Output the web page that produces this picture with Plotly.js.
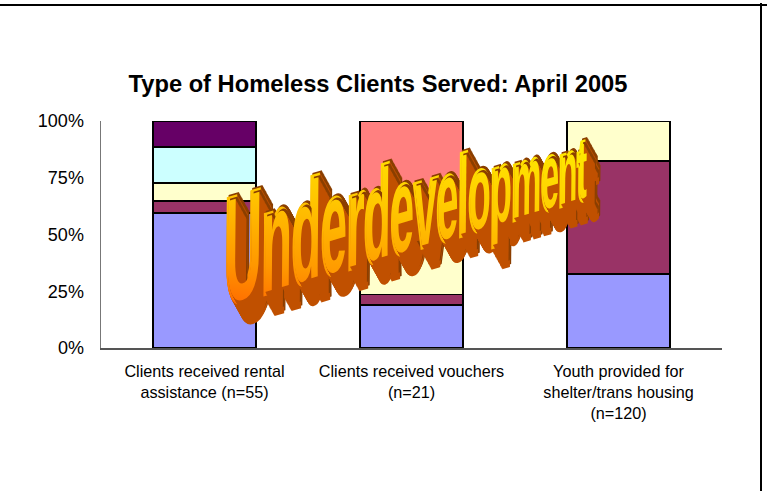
<!DOCTYPE html>
<html><head><meta charset="utf-8">
<script src="https://cdn.plot.ly/plotly-3.0.1.min.js"></script>
<style>html,body{margin:0;padding:0;background:#fff}#c{width:767px;height:491px}</style>
</head><body><div id="c"></div>
<script>
const categories = ['Clients received rental<br>assistance (n=55)', 'Clients received vouchers<br>(n=21)', 'Youth provided for<br>shelter/trans housing<br>(n=120)'];
const blue = [59.6, 18.9, 32.6];
const maroon = [5.2, 4.7, 49.9];
const cream = [8.0, 33.4, 17.5];
const cyan = [15.6, 0, 0];
const purple = [11.6, 0, 0];
const salmon = [0, 43, 0];
const colors = ['#9999FF', '#993366', '#FFFFCC', '#CCFFFF', '#660066', '#FF8080'];
const series = [blue, maroon, cream, cyan, purple, salmon];
const word = 'Underdevelopment';
const sizes = [142,136,131,127,123,119,115,111,107,103,99,95,91,87,83,79];

const traces = series.map((v, i) => ({
  type: 'bar', x: categories, y: v, width: 0.5,
  marker: {color: colors[i], line: {color: '#000', width: 1.8}},
  hoverinfo: 'skip'
}));
const layout = {
  width: 767, height: 491, barmode: 'stack', showlegend: false,
  paper_bgcolor: '#fff', plot_bgcolor: '#fff',
  margin: {l: 101, r: 45, t: 121, b: 143, autoexpand: false},
  font: {family: '"Liberation Sans", Arial, sans-serif', color: '#000'},
  title: {text: 'Type of Homeless Clients Served: April 2005', font: {size: 23.7, color: '#000', family: '"Liberation Sans", Arial, sans-serif', weight: 700}, x: 378/767, xanchor: 'center', y: 1 - 84/491, yanchor: 'middle'},
  xaxis: {type: 'category', showgrid: false, ticks: 'outside', ticklen: 8, tickcolor: 'rgba(0,0,0,0)', tickfont: {size: 16.2}, tickangle: 0, showline: true, linecolor: '#555', linewidth: 1.5, automargin: false},
  yaxis: {range: [0, 100], tickvals: [0, 25, 50, 75, 100], ticktext: ['0%', '25%', '50%', '75%', '100%'], showgrid: false, zeroline: false, ticks: 'outside', ticklen: 12, tickcolor: 'rgba(0,0,0,0)', tickfont: {size: 18}, showline: true, linecolor: '#777', linewidth: 1.5, automargin: false},
  shapes: [
    {type: 'line', xref: 'paper', yref: 'paper', x0: -101/621, x1: 666/621, y0: 1 + 116/227, y1: 1 + 116/227, line: {color: '#000', width: 2}},
    {type: 'line', xref: 'paper', yref: 'paper', x0: 660/621, x1: 660/621, y0: 1 + 118/227, y1: -143/227, line: {color: '#000', width: 2}}
  ],
  annotations: [{
    xref: 'paper', yref: 'paper', x: (406 - 101) / 621, y: (348 - 198) / 227, xanchor: 'center', yanchor: 'middle',
    showarrow: false, textangle: -16.5,
    text: word.split('').map((c, i) => `<span style="font-size:${sizes[i]}px">${c}</span>`).join(''),
    font: {family: '"Liberation Sans", Arial, sans-serif', size: 110, color: '#FFB000', weight: 700}
  }]
};
Plotly.newPlot('c', traces, layout, {displayModeBar: false, staticPlot: true}).then(gd => {
  const svg = gd.querySelector('svg.main-svg');
  const ns = 'http://www.w3.org/2000/svg';
  const defs = svg.querySelector('defs') || svg.insertBefore(document.createElementNS(ns, 'defs'), svg.firstChild);
  const g = document.createElementNS(ns, 'linearGradient');
  g.id = 'wordFill'; g.setAttribute('x1', 0); g.setAttribute('y1', 1); g.setAttribute('x2', 0.9); g.setAttribute('y2', 0);
  [['0', '#FF3800'], ['0.12', '#FF7000'], ['0.25', '#FF9800'], ['0.5', '#FFC800'], ['0.8', '#FFEE00'], ['1', '#FFF000']].forEach(([o, c]) => {
    const s = document.createElementNS(ns, 'stop'); s.setAttribute('offset', o); s.setAttribute('stop-color', c); g.appendChild(s);
  });
  defs.appendChild(g);
  const t = gd.querySelector('.annotation-text');
  t.style.fill = 'url(#wordFill)';
  t.style.stroke = 'url(#wordFill)';
  t.style.strokeWidth = '8px';
  t.style.paintOrder = 'stroke';
  t.querySelectorAll('tspan').forEach(s => { s.style.fill = 'url(#wordFill)'; });
  let sh = [];
  for (let k = 1; k <= 24; k++) sh.push(`${k}px ${k * 0.72}px 0 #C05000`);
  for (let k = 1; k <= 24; k++) sh.push(`${k + 3}px ${k * 0.72 - 2}px 0 #8A3E00`);
  t.style.textShadow = sh.join(',');
  const bb = t.getBBox();
  const cx = bb.x + bb.width / 2, cy = bb.y + bb.height / 2;
  const prev = t.getAttribute('transform') || '';
  t.setAttribute('transform', `${prev} translate(${cx} ${cy}) skewX(-17) scale(0.38 1) translate(${-cx} ${-cy})`);
});
</script></body></html>
